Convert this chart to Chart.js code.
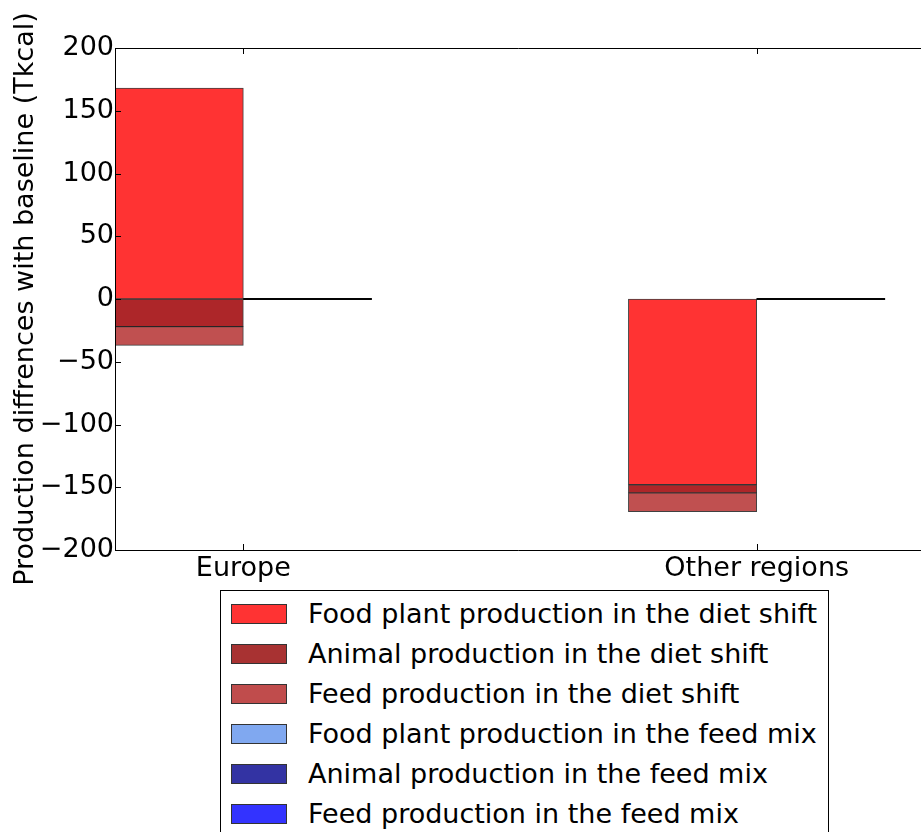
<!DOCTYPE html>
<html>
<head>
<meta charset="utf-8">
<script src="https://cdn.jsdelivr.net/npm/chart.js@4.4.1/dist/chart.umd.min.js"></script>
<style>
  body { margin: 0; background: #fff; overflow: hidden; font-family: 'DejaVu Sans', sans-serif; }
  #wrap { position: absolute; left: 0; top: 0; width: 921px; height: 600px; }
  #legend { position: absolute; left: 220px; top: 590px; width: 607px; height: 270px;
            border: 1px solid #000; background: #fff; }
  .item { position: absolute; left: 0; height: 40px; width: 100%; }
  .swatch { position: absolute; left: 10px; top: 13px; width: 56px; height: 20px;
            border: 1px solid #333; box-sizing: border-box; }
  .label { position: absolute; left: 87px; top: 8px; font-size: 27px; line-height: 30px;
           color: #000; white-space: nowrap; }
</style>
</head>
<body>
<div id="wrap"><canvas id="chart"></canvas></div>
<div id="legend"></div>
<script>
// ── Data ─────────────────────────────────

const regions     = ['Europe', 'Other regions'];
const regionPos   = [0, 1];

// diet shift (stacked, Tkcal)
const foodDiet    = [168, -148];
const animalDiet  = [-22, -6.5];
const feedDiet    = [-15, -15];

// feed mix (all zero)
const foodMix     = [0, 0];
const animalMix   = [0, 0];
const feedMix     = [0, 0];

const seriesNames = [
  'Food plant production in the diet shift',
  'Animal production in the diet shift',
  'Feed production in the diet shift',
  'Food plant production in the feed mix',
  'Animal production in the feed mix',
  'Feed production in the feed mix'
];
const barColors    = ['#ff3333', '#ad2629', '#c05050', '#80a8f0', '#3333a3', '#3333ff'];
const legendColors = ['#ff3333', '#a83232', '#c04c4c', '#80a8f0', '#3333a3', '#3333ff'];

const yMin = -200, yMax = 200, yStep = 50;
const barWidth = 0.25;

// ── Helpers ──────────────────────────────

function points(values, shift) {
  return values.map((v, i) => ({ x: regionPos[i] + shift, y: v }));
}

function fmtTick(v) {
  return v < 0 ? '\u2212' + Math.abs(v) : String(v);
}

const allSeries = [foodDiet, animalDiet, feedDiet, foodMix, animalMix, feedMix];

const datasets = allSeries.map((vals, k) => ({
  label: seriesNames[k],
  data: points(vals, k < 3 ? -barWidth / 2 : barWidth / 2),
  backgroundColor: barColors[k],
  borderColor: 'rgba(0,0,0,0.75)',
  borderWidth: 1,
  borderSkipped: false,
  stack: k < 3 ? 'diet' : 'mix',
  grouped: false,
  barPercentage: 1,
  categoryPercentage: 1,
  zeroLine: k >= 3
}));

// ── Plugins ──────────────────────────────

const frame = {
  id: 'frame',
  afterDatasetsDraw(chart) {
    const { ctx, chartArea: a, scales } = chart;
    ctx.save();

    // zero-height feed mix bars: outline only
    ctx.strokeStyle = '#000';
    ctx.lineWidth = 1.5;
    chart.data.datasets.forEach((ds, i) => {
      if (!ds.zeroLine) return;
      chart.getDatasetMeta(i).data.forEach(el => {
        ctx.beginPath();
        ctx.moveTo(el.x - el.width / 2, el.y);
        ctx.lineTo(el.x + el.width / 2, el.y);
        ctx.stroke();
      });
    });

    // axes frame (left, top, bottom)
    ctx.lineWidth = 1;
    ctx.beginPath();
    ctx.moveTo(a.right, a.top + 0.5);
    ctx.lineTo(a.left + 0.5, a.top + 0.5);
    ctx.lineTo(a.left + 0.5, a.bottom + 0.5);
    ctx.lineTo(a.right, a.bottom + 0.5);
    ctx.stroke();

    // inward tick marks
    ctx.beginPath();
    scales.y.ticks.forEach(t => {
      const y = Math.round(scales.y.getPixelForValue(t.value)) + 0.5;
      ctx.moveTo(a.left, y);
      ctx.lineTo(a.left + 6, y);
    });
    scales.x.ticks.forEach(t => {
      const x = Math.round(scales.x.getPixelForValue(t.value)) + 0.5;
      ctx.moveTo(x, a.bottom);
      ctx.lineTo(x, a.bottom - 6);
      ctx.moveTo(x, a.top);
      ctx.lineTo(x, a.top + 6);
    });
    ctx.stroke();
    ctx.restore();
  }
};

// ── Chart Setup ──────────────────────────

Chart.defaults.font.family = "'DejaVu Sans', sans-serif";
Chart.defaults.color = '#000';

new Chart(document.getElementById('chart').getContext('2d'), {
  type: 'bar',
  data: { datasets },
  options: {
    responsive: true,
    maintainAspectRatio: false,
    animation: false,
    layout: { padding: { top: 48, right: 0, bottom: 0, left: 0 } },
    plugins: { legend: { display: false }, tooltip: { enabled: false } },
    scales: {
      x: {
        type: 'linear',
        offset: false,
        min: -barWidth,
        max: 1.32,
        stacked: true,
        grid: { display: false, drawTicks: false, tickLength: 0 },
        border: { display: false },
        afterBuildTicks: s => { s.ticks = regionPos.map(v => ({ value: v })); },
        afterFit: s => { s.height = 50; },
        ticks: {
          autoSkip: false,
          maxRotation: 0,
          padding: 3,
          font: { size: 27 },
          callback: v => regions[regionPos.indexOf(v)] ?? ''
        }
      },
      y: {
        min: yMin,
        max: yMax,
        stacked: true,
        grid: { display: false, drawTicks: false, tickLength: 0 },
        border: { display: false },
        afterFit: s => { s.width = 115; },
        ticks: {
          stepSize: yStep,
          padding: 1,
          font: { size: 27 },
          callback: v => fmtTick(v)
        },
        title: {
          display: true,
          text: 'Production diffrences with baseline (Tkcal)',
          font: { size: 27 },
          padding: { top: 10, bottom: 0 }
        }
      }
    }
  },
  plugins: [frame]
});

// ── Legend ───────────────────────────────

document.getElementById('legend').innerHTML = seriesNames.map((name, k) => `
  <div class="item" style="top:${k * 40}px">
    <div class="swatch" style="background:${legendColors[k]}"></div>
    <div class="label">${name}</div>
  </div>
`).join('');
</script>
</body>
</html>
